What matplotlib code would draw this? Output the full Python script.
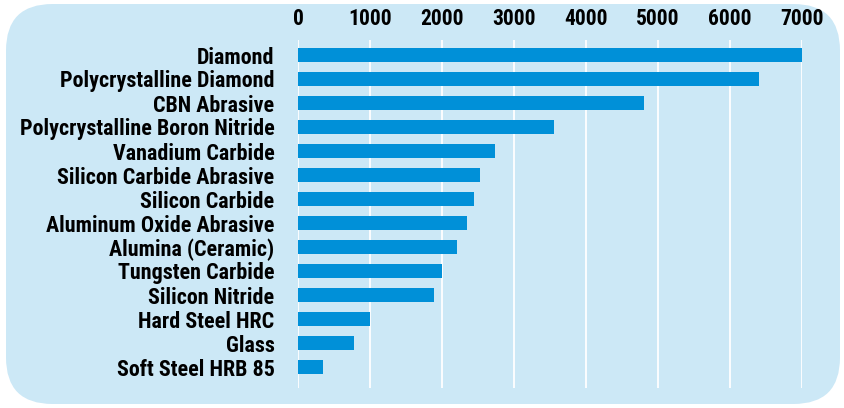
import matplotlib.pyplot as plt
from matplotlib.patches import FancyBboxPatch

# data (hardness, Knoop)
materials = ['Diamond', 'Polycrystalline Diamond', 'CBN Abrasive',
             'Polycrystalline Boron Nitride', 'Vanadium Carbide',
             'Silicon Carbide Abrasive', 'Silicon Carbide',
             'Aluminum Oxide Abrasive', 'Alumina (Ceramic)', 'Tungsten Carbide',
             'Silicon Nitride', 'Hard Steel HRC', 'Glass', 'Soft Steel HRB 85']
hardness = [7000, 6400, 4800, 3560, 2740, 2530, 2440, 2350, 2210, 2000,
            1890, 1000, 780, 350]
xticks = [0, 1000, 2000, 3000, 4000, 5000, 6000, 7000]

plt.rcParams['font.family'] = ['Roboto Condensed', 'IBM Plex Sans Condensed',
                               'DejaVu Sans']
plt.rcParams['font.weight'] = 'bold'

bg = '#cce8f6'
bar_col = '#0090d8'

fig = plt.figure(figsize=(8.45, 4.08), dpi=100)
box = FancyBboxPatch((6 / 845, 4 / 408), 834 / 845, 400 / 408,
                     boxstyle='round,pad=0,rounding_size=0.055',
                     mutation_aspect=845 / 408,
                     transform=fig.transFigure, facecolor=bg,
                     edgecolor='none', zorder=-5)
fig.add_artist(box)

ax = fig.add_axes([298 / 845, 1 - 388 / 408, 504 / 845, 348 / 408])
ax.set_facecolor('none')
ypos = list(range(len(materials)))
ax.barh(ypos, hardness, height=0.55, color=bar_col, zorder=3)
ax.set_yticks(ypos)
ax.set_yticklabels(materials, fontsize=15.8, fontweight='bold')
ax.set_ylim(13.875, -0.625)
ax.set_xlim(0, 7000)
ax.set_xticks(xticks)
ax.set_xticklabels([str(t) for t in xticks], fontsize=15.5, fontweight='bold')
ax.xaxis.tick_top()
ax.tick_params(axis='both', length=0)
ax.tick_params(axis='x', pad=7)
ax.tick_params(axis='y', pad=17)
ax.grid(axis='x', color='white', linewidth=1.3, zorder=1)
ax.set_axisbelow(True)
for s in ax.spines.values():
    s.set_visible(False)

fig.savefig('out.png', dpi=100)
